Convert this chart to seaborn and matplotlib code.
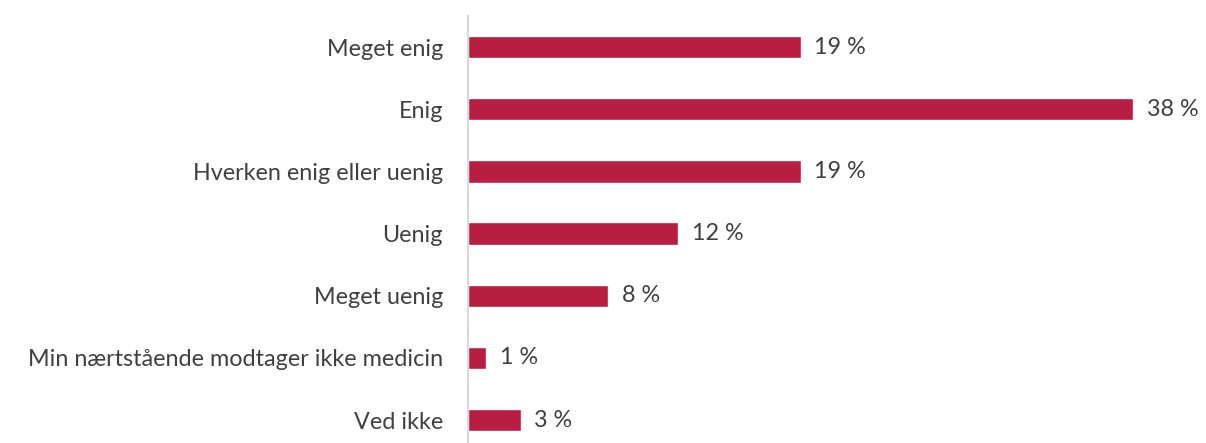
import matplotlib
matplotlib.use("Agg")
import matplotlib.pyplot as plt
import seaborn as sns
import pandas as pd

categories = [
    "Meget enig",
    "Enig",
    "Hverken enig eller uenig",
    "Uenig",
    "Meget uenig",
    "Min nærtstående modtager ikke medicin",
    "Ved ikke",
]
values = [19, 38, 19, 12, 8, 1, 3]

df = pd.DataFrame({"kategori": categories, "andel": values})

sns.set_theme(style="white")
plt.rcParams["font.family"] = ["Lato", "DejaVu Sans"]

W, H = 1206, 443
fig = plt.figure(figsize=(W / 100, H / 100), dpi=100)
ax = fig.add_axes([468 / W, 0, 1 - 468 / W, 1 - 16 / H])

bar_color = "#B71E42"
text_color = "#404040"
fs = 16.8

sns.barplot(data=df, x="andel", y="kategori", orient="h", color=bar_color,
            width=0.36, saturation=1, ax=ax)

for i, v in enumerate(values):
    ax.text(v + 0.8, i, f"{v} %", va="center", ha="left",
            fontsize=fs, color=text_color)

ax.set_xlim(0, (W - 468) / 17.5)
ax.set_ylim(6.37, -0.5)
ax.set_xlabel("")
ax.set_ylabel("")
ax.set_xticks([])
ax.tick_params(axis="y", length=0, pad=18, labelsize=fs, labelcolor=text_color)

for side in ["top", "right", "bottom"]:
    ax.spines[side].set_visible(False)
ax.spines["left"].set_color("#D9D9D9")
ax.spines["left"].set_linewidth(1.5)

fig.savefig("out.png", dpi=100)
